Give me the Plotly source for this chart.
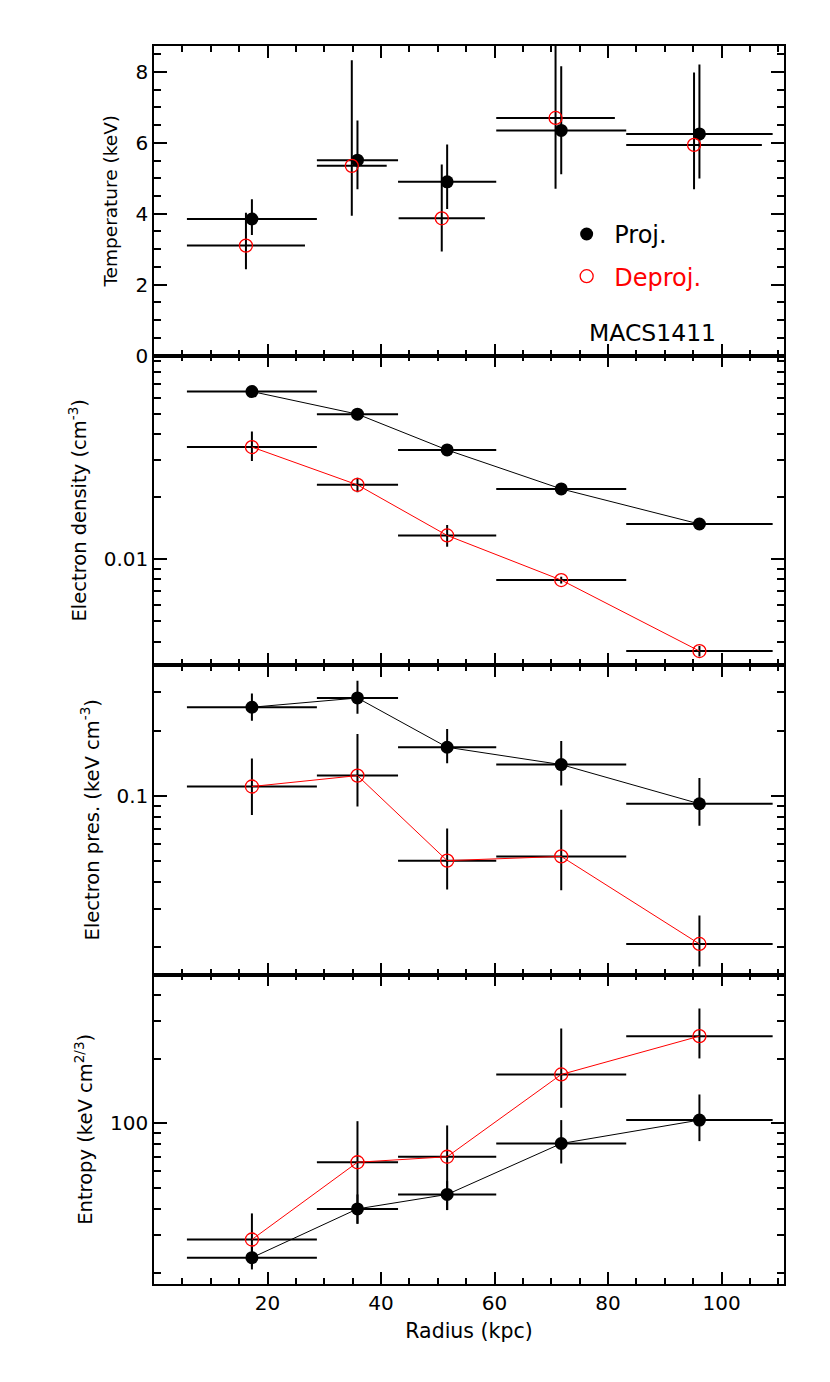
import plotly.graph_objects as go
from plotly.subplots import make_subplots

# radial bins (kpc), shared by most profiles
r_mid = [17.25, 35.85, 51.65, 71.75, 96.1]
r_lo = [5.8, 28.7, 43.0, 60.3, 83.2]
r_hi = [28.7, 43.0, 60.3, 83.2, 109.0]

# deprojected temperature is drawn on slightly shifted bins
r_mid_tdep = [16.2, 34.85, 50.7, 70.75, 95.15]
r_lo_tdep = [5.8, 28.7, 43.1, 60.3, 83.2]
r_hi_tdep = [26.6, 41.0, 58.3, 81.2, 107.1]

# temperature (keV)
t_proj = [3.85, 5.51, 4.90, 6.35, 6.25]
t_proj_lo = [3.40, 4.69, 4.13, 5.11, 4.99]
t_proj_hi = [4.41, 6.63, 5.95, 8.16, 8.21]
t_dep = [3.10, 5.35, 3.87, 6.70, 5.94]
t_dep_lo = [2.43, 3.94, 2.93, 4.70, 4.69]
t_dep_hi = [4.03, 8.33, 5.39, 9.00, 7.98]

# electron density (cm^-3)
ne_proj = [0.0643, 0.0500, 0.0336, 0.0218, 0.01476]
ne_proj_lo = [0.0631, 0.0491, 0.0329, 0.0213, 0.0144]
ne_proj_hi = [0.0655, 0.0509, 0.0343, 0.0223, 0.0151]
ne_dep = [0.0347, 0.0228, 0.0130, 0.00792, 0.00360]
ne_dep_lo = [0.0297, 0.0210, 0.01147, 0.00762, 0.00339]
ne_dep_hi = [0.0412, 0.0247, 0.0146, 0.00822, 0.00381]

# electron pressure (keV cm^-3)
p_proj = [0.2564, 0.283, 0.1676, 0.1394, 0.0919]
p_proj_lo = [0.222, 0.239, 0.1415, 0.1115, 0.0727]
p_proj_hi = [0.297, 0.340, 0.2035, 0.1793, 0.121]
p_dep = [0.1104, 0.124, 0.0502, 0.0525, 0.0207]
p_dep_lo = [0.0815, 0.0893, 0.0369, 0.0366, 0.0163]
p_dep_hi = [0.1485, 0.193, 0.0707, 0.0862, 0.0280]

# entropy (keV cm^2/3)
k_proj = [23.6, 39.9, 46.6, 80.6, 103.7]
k_proj_lo = [20.8, 34.0, 39.4, 65.0, 82.7]
k_proj_hi = [26.7, 46.6, 53.8, 103.7, 136.6]
k_dep = [28.7, 65.9, 69.9, 169.4, 255.8]
k_dep_lo = [21.5, 34.0, 39.4, 118.4, 201.3]
k_dep_hi = [38.0, 102.5, 97.9, 277.8, 344.6]

FONT = "DejaVu Sans"

fig = make_subplots(rows=4, cols=1, shared_xaxes=True, vertical_spacing=0)


def profile(x, xlo, xhi, y, ylo, yhi, dep, lines, name=None):
    err_x = dict(type="data", symmetric=False,
                 array=[b - a for a, b in zip(x, xhi)],
                 arrayminus=[a - b for a, b in zip(x, xlo)],
                 width=0, thickness=2, color="black")
    err_y = dict(type="data", symmetric=False,
                 array=[b - a for a, b in zip(y, yhi)],
                 arrayminus=[a - b for a, b in zip(y, ylo)],
                 width=0, thickness=2, color="black")
    if dep:
        marker = dict(symbol="circle-open", size=13, color="red", line=dict(width=1.3, color="red"))
        line = dict(color="red", width=1)
    else:
        marker = dict(symbol="circle", size=13, color="black")
        line = dict(color="black", width=1)
    return go.Scatter(x=x, y=y, mode="lines+markers" if lines else "markers",
                      marker=marker, line=line, error_x=err_x, error_y=err_y,
                      name=name, showlegend=name is not None,
                      legendgroup=name)


# temperature panel
fig.add_trace(profile(r_mid, r_lo, r_hi, t_proj, t_proj_lo, t_proj_hi, False, False,
                      "&nbsp;Proj."), row=1, col=1)
fig.add_trace(profile(r_mid_tdep, r_lo_tdep, r_hi_tdep, t_dep, t_dep_lo, t_dep_hi, True, False,
                      '&nbsp;<span style="color:red">Deproj.</span>'), row=1, col=1)
# density
fig.add_trace(profile(r_mid, r_lo, r_hi, ne_proj, ne_proj_lo, ne_proj_hi, False, True), row=2, col=1)
fig.add_trace(profile(r_mid, r_lo, r_hi, ne_dep, ne_dep_lo, ne_dep_hi, True, True), row=2, col=1)
# pressure
fig.add_trace(profile(r_mid, r_lo, r_hi, p_proj, p_proj_lo, p_proj_hi, False, True), row=3, col=1)
fig.add_trace(profile(r_mid, r_lo, r_hi, p_dep, p_dep_lo, p_dep_hi, True, True), row=3, col=1)
# entropy
fig.add_trace(profile(r_mid, r_lo, r_hi, k_proj, k_proj_lo, k_proj_hi, False, True), row=4, col=1)
fig.add_trace(profile(r_mid, r_lo, r_hi, k_dep, k_dep_lo, k_dep_hi, True, True), row=4, col=1)

axis_style = dict(showline=True, linecolor="black", linewidth=1.5, mirror="allticks",
                  ticks="inside", tickcolor="black", tickwidth=1.6, showgrid=False,
                  zeroline=False, tickfont=dict(family=FONT, size=20, color="black"))

fig.update_xaxes(range=[0, 111], tickmode="array", tickvals=[20, 40, 60, 80, 100], ticklen=12,
                 minor=dict(tickmode="array", tickvals=[5, 10, 15, 25, 30, 35, 45, 50, 55, 65, 70, 75,
                                                        85, 90, 95, 105, 110],
                            ticks="inside", ticklen=6, tickwidth=1.5, tickcolor="black"),
                 **axis_style)
fig.update_xaxes(title=dict(text="Radius (kpc)", font=dict(family=FONT, size=20.5, color="black"),
                            standoff=10),
                 row=4, col=1)

ytitle_font = dict(family=FONT, size=19.5, color="black")
minor_y = dict(ticks="inside", ticklen=7, tickwidth=1.5, tickcolor="black", tickmode="array")

fig.update_yaxes(range=[0, 8.73], tickmode="array", tickvals=[0, 2, 4, 6, 8], ticklen=13,
                 minor=dict(tickvals=[0.5, 1, 1.5, 2.5, 3, 3.5, 4.5, 5, 5.5, 6.5, 7, 7.5, 8.5], **minor_y),
                 title=dict(text="Temperature (keV)", font=dict(family=FONT, size=18.5, color="black"),
                            standoff=13),
                 row=1, col=1, **axis_style)
fig.update_yaxes(type="log", range=[-2.511, -1.018], tickmode="array", tickvals=[0.01], ticktext=["0.01"],
                 ticklen=13,
                 minor=dict(tickvals=[0.004, 0.005, 0.006, 0.007, 0.008, 0.009,
                                      0.02, 0.03, 0.04, 0.05, 0.06, 0.07, 0.08, 0.09], **minor_y),
                 title=dict(text="Electron density (cm<sup>-3</sup>)", font=ytitle_font, standoff=12),
                 row=2, col=1, **axis_style)
fig.update_yaxes(type="log", range=[-1.825, -0.396], tickmode="array", tickvals=[0.1], ticktext=["0.1"],
                 ticklen=13,
                 minor=dict(tickvals=[0.02, 0.03, 0.04, 0.05, 0.06, 0.07, 0.08, 0.09, 0.2, 0.3], **minor_y),
                 title=dict(text="Electron pres. (keV cm<sup>-3</sup>)", font=ytitle_font, standoff=12),
                 row=3, col=1, **axis_style)
fig.update_yaxes(type="log", range=[1.250, 2.696], tickmode="array", tickvals=[100], ticktext=["100"],
                 ticklen=13,
                 minor=dict(tickvals=[20, 30, 40, 50, 60, 70, 80, 90, 200, 300, 400], **minor_y),
                 title=dict(text="Entropy (keV cm<sup>2/3</sup>)", font=ytitle_font, standoff=12),
                 row=4, col=1, **axis_style)

fig.add_annotation(x=76.3, y=0.64, xref="x", yref="y", text="MACS1411", showarrow=False,
                   xanchor="left", yanchor="middle", font=dict(family=FONT, size=23.5, color="black"))

# page body adds an 8px offset, so the figure is 8px smaller than the window
fig.update_layout(
    width=822, height=1374,
    margin=dict(l=146, r=46, t=38, b=98),
    paper_bgcolor="white", plot_bgcolor="white",
    font=dict(family=FONT, color="black"),
    showlegend=True,
    legend=dict(x=0.655, y=0.866, xanchor="left", yanchor="top", bgcolor="rgba(0,0,0,0)",
                font=dict(family=FONT, size=24, color="black"), tracegroupgap=8,
                itemwidth=30),
)

fig.write_html("out.html")
